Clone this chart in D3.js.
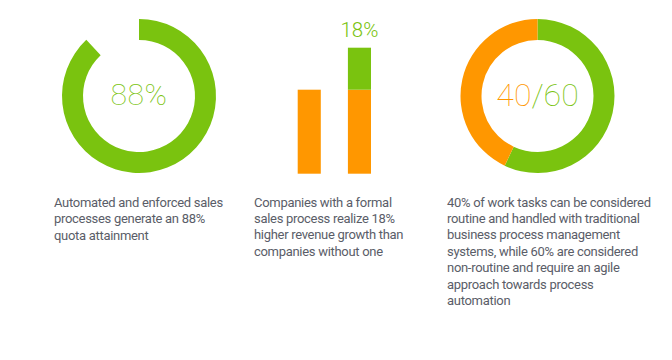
<!DOCTYPE html>
<html>
<head>
<meta charset="utf-8">
<script src="https://cdn.jsdelivr.net/npm/d3@7"></script>
<style>
html,body{margin:0;padding:0;background:#fff;}
svg{display:block;}
</style>
</head>
<body>
<svg id="chart" width="672" height="360"></svg>
<script>
// ---- data ----
const quotaValues = [88, 12];            // donut 1: attained, remainder (gap)
const quotaLabel = "88%";
const barCategories = ["without", "with"];
const barBase = [100, 100];              // orange part
const barGrowth = [0, 50];               // green extra on top
const barLabel = "18%";
const taskCategories = ["routine", "nonroutine"];
const taskValues = [43, 57];             // orange (routine), green (non-routine) as drawn
const taskLabelParts = ["40", "/60"];
const captions = [
  ["Automated and enforced sales", "processes generate an 88%", "quota attainment"],
  ["Companies with a formal", "sales process realize 18%", "higher revenue growth than", "companies without one"],
  ["40% of work tasks can be considered", "routine and handled with traditional", "business process management", "systems, while 60% are considered", "non-routine and require an agile", "approach towards process", "automation"]
];

const GREEN = "#7ac30f", ORANGE = "#ff9700", TEXT = "#5a5d68";
const svg = d3.select("#chart");
const bigFont = "'Roboto', 'Lato', sans-serif";

// ---- donut 1 ----
const arc = d3.arc().innerRadius(56).outerRadius(77);
const g1 = svg.append("g").attr("transform", "translate(139,96)");
const pie1 = d3.pie().sort(null).value(d => d)(quotaValues);
g1.append("path").attr("d", arc(pie1[0])).attr("fill", GREEN);
g1.append("text").attr("text-anchor", "middle").attr("y", 8.5)
  .attr("font-family", bigFont).attr("font-weight", 100).attr("font-size", 30)
  .attr("letter-spacing", 0.6)
  .attr("fill", GREEN).text(quotaLabel);

// ---- bars ----
const x = d3.scaleBand().domain(barCategories).range([297.7, 371]).paddingInner(0.54).paddingOuter(0);
const y = d3.scaleLinear().domain([0, 150]).range([173.7, 47.7]);
const gb = svg.append("g");
gb.selectAll("rect.base").data(barCategories).join("rect")
  .attr("x", d => x(d)).attr("width", x.bandwidth())
  .attr("y", (d, i) => y(barBase[i])).attr("height", (d, i) => y(0) - y(barBase[i]))
  .attr("fill", ORANGE);
gb.selectAll("rect.grow").data(barCategories.filter((d, i) => barGrowth[i] > 0)).join("rect")
  .attr("x", d => x(d)).attr("width", x.bandwidth())
  .attr("y", d => { const i = barCategories.indexOf(d); return y(barBase[i] + barGrowth[i]); })
  .attr("height", d => { const i = barCategories.indexOf(d); return y(barBase[i]) - y(barBase[i] + barGrowth[i]); })
  .attr("fill", GREEN);
gb.append("text").attr("text-anchor", "middle")
  .attr("x", x("with") + x.bandwidth() / 2).attr("y", 37.3)
  .attr("font-family", bigFont).attr("font-weight", 300).attr("font-size", 20.5)
  .attr("fill", GREEN).text(barLabel);

// ---- donut 3 ----
const g3 = svg.append("g").attr("transform", "translate(537.5,96)");
// green clockwise from top, orange the rest
const pie3 = d3.pie().sort(null).value(d => d)([taskValues[1], taskValues[0]]);
const colors3 = [GREEN, ORANGE];
g3.selectAll("path").data(pie3).join("path").attr("d", arc).attr("fill", (d, i) => colors3[i]);
const t3 = g3.append("text").attr("text-anchor", "middle").attr("y", 9.7)
  .attr("font-family", bigFont).attr("font-weight", 100).attr("font-size", 32);
t3.append("tspan").attr("fill", ORANGE).text(taskLabelParts[0]);
t3.append("tspan").attr("fill", GREEN).text(taskLabelParts[1]);

// ---- captions ----
const capX = [54, 254, 447];
const capLH = [16.8, 16.4, 16.4];
captions.forEach((lines, k) => {
  const t = svg.append("text").attr("x", capX[k]).attr("y", 206.5)
    .attr("font-family", "'Roboto', sans-serif").attr("font-size", 13)
    .attr("letter-spacing", -0.3)
    .attr("fill", TEXT);
  lines.forEach((ln, j) => t.append("tspan").attr("x", capX[k]).attr("dy", j === 0 ? 0 : capLH[k]).text(ln));
});
</script>
</body>
</html>
